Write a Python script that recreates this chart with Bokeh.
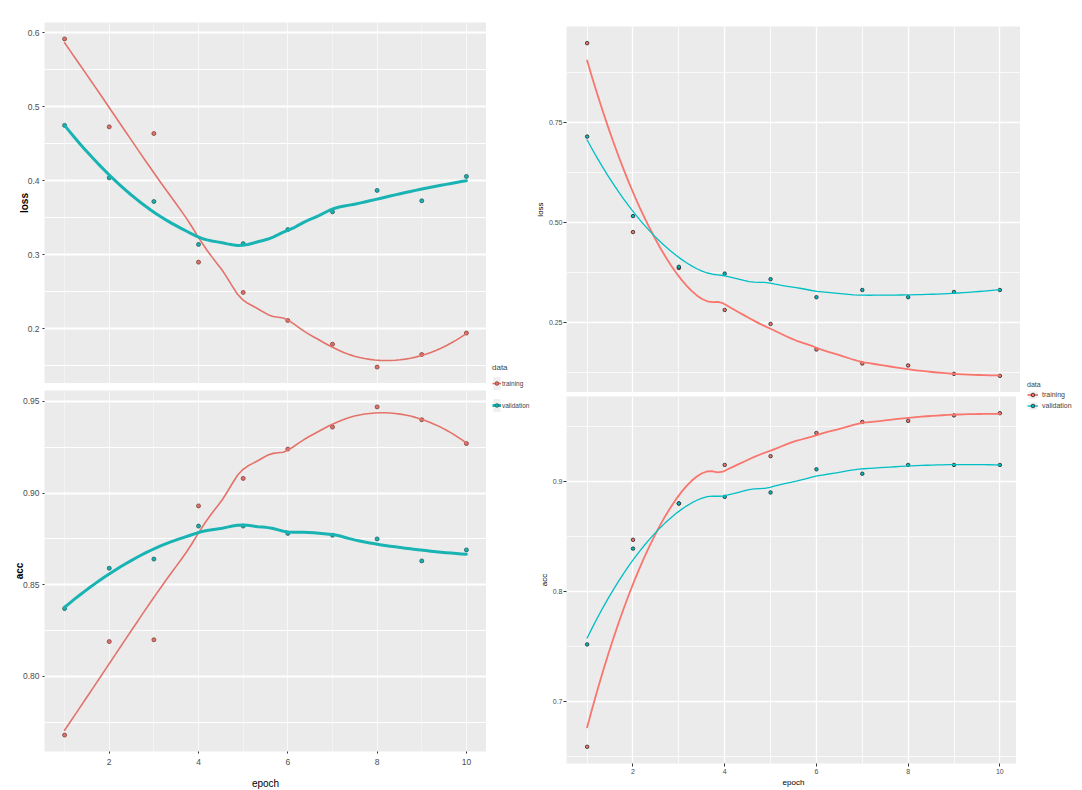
import numpy as np
from bokeh.plotting import figure
from bokeh.layouts import row, column
from bokeh.models import FixedTicker, Legend, LegendItem, Range1d
from bokeh.embed import file_html
from bokeh.resources import INLINE

# ---------------- data ----------------
epochs = [1, 2, 3, 4, 5, 6, 7, 8, 9, 10]
series_names = ["training", "validation"]

# left chart (two facets)
left_loss_training = [0.592, 0.473, 0.464, 0.290, 0.249, 0.211, 0.179, 0.148, 0.165, 0.194]
left_loss_validation = [0.475, 0.404, 0.372, 0.314, 0.315, 0.334, 0.358, 0.387, 0.373, 0.406]
left_acc_training = [0.768, 0.819, 0.820, 0.893, 0.908, 0.924, 0.936, 0.947, 0.940, 0.927]
left_acc_validation = [0.837, 0.859, 0.864, 0.882, 0.882, 0.878, 0.877, 0.875, 0.863, 0.869]

# right chart (two facets)
right_loss_training = [0.949, 0.476, 0.386, 0.281, 0.246, 0.182, 0.147, 0.142, 0.121, 0.116]
right_loss_validation = [0.715, 0.516, 0.389, 0.372, 0.358, 0.313, 0.331, 0.313, 0.326, 0.331]
right_acc_training = [0.659, 0.847, 0.880, 0.915, 0.923, 0.944, 0.954, 0.955, 0.960, 0.962]
right_acc_validation = [0.752, 0.839, 0.880, 0.886, 0.890, 0.911, 0.907, 0.915, 0.915, 0.915]

# ticks
x_ticks = [2, 4, 6, 8, 10]
x_minor = [1, 3, 5, 7, 9]
left_loss_ticks = [0.2, 0.3, 0.4, 0.5, 0.6]
left_loss_labels = ["0.2", "0.3", "0.4", "0.5", "0.6"]
left_loss_minor = [0.15, 0.25, 0.35, 0.45, 0.55]
left_acc_ticks = [0.80, 0.85, 0.90, 0.95]
left_acc_labels = ["0.80", "0.85", "0.90", "0.95"]
left_acc_minor = [0.775, 0.825, 0.875, 0.925]
right_loss_ticks = [0.25, 0.50, 0.75]
right_loss_labels = ["0.25", "0.50", "0.75"]
right_loss_minor = [0.125, 0.375, 0.625, 0.875]
right_acc_ticks = [0.7, 0.8, 0.9]
right_acc_labels = ["0.7", "0.8", "0.9"]
right_acc_minor = [0.65, 0.75, 0.85, 0.95]

# ---------------- helpers ----------------
XS = np.linspace(1, 10, 80)


def loess(x, y, xs, span=0.75, degree=2):
    x = np.asarray(x, float)
    y = np.asarray(y, float)
    n = len(x)
    q = int(np.floor(n * span))
    out = []
    for x0 in xs:
        d = np.abs(x - x0)
        h = np.sort(d)[q - 1]
        u = d / h
        w = np.where(u < 1, (1 - u ** 3) ** 3, 0.0)
        X = np.vander(x - x0, degree + 1, increasing=True)
        sw = np.sqrt(w)
        beta = np.linalg.lstsq(X * sw[:, None], y * sw, rcond=None)[0]
        out.append(beta[0])
    return np.array(out)


def yrange(*arrs):
    allv = np.concatenate([np.asarray(a, float) for a in arrs])
    lo, hi = allv.min(), allv.max()
    pad = 0.05 * (hi - lo)
    return Range1d(lo - pad, hi + pad)


LEFT_FONT = "Liberation Sans"
RIGHT_FONT = "Liberation Sans"
PANEL_BG = "#EBEBEB"


def make_panel(fw, fh, bl, bt, bb, ylo_hi, yticks, ylabels, yminor, ytitle,
               show_x, cfg):
    p = figure(frame_width=fw, frame_height=fh,
               x_range=Range1d(0.55, 10.45), y_range=ylo_hi,
               min_border_left=bl, min_border_right=0, min_border_top=bt,
               min_border_bottom=bb, output_backend="svg", toolbar_location=None,
               background_fill_color=PANEL_BG, border_fill_color="white",
               outline_line_color=None)
    p.xaxis.ticker = FixedTicker(ticks=x_ticks, minor_ticks=x_minor)
    p.yaxis.ticker = FixedTicker(ticks=yticks, minor_ticks=yminor)
    p.yaxis.major_label_overrides = {t: l for t, l in zip(yticks, ylabels)}
    for ax in (p.xaxis[0], p.yaxis[0]):
        ax.axis_line_color = None
        ax.minor_tick_line_color = None
        ax.major_tick_line_color = "#333333"
        ax.major_tick_in = 0
        ax.major_tick_out = cfg["tick_out"]
        ax.major_label_text_font = cfg["font"]
        ax.major_label_text_font_size = cfg["tick_size"]
        ax.major_label_text_color = "#4D4D4D"
        ax.axis_label_text_font = cfg["font"]
        ax.axis_label_text_font_size = cfg["title_size"]
        ax.axis_label_text_color = "black"
        ax.axis_label_text_font_style = "normal"
    p.yaxis.major_label_standoff = cfg["ylab_standoff"]
    p.xaxis.major_label_standoff = cfg["xlab_standoff"]
    p.yaxis.axis_label = ytitle
    p.yaxis.axis_label_standoff = cfg["ytitle_standoff"]
    p.yaxis.axis_label_text_font_style = cfg["ytitle_style"]
    if show_x:
        p.xaxis.axis_label = "epoch"
        p.xaxis.axis_label_standoff = cfg["xtitle_standoff"]
    else:
        p.xaxis.visible = False
    p.xgrid.grid_line_color = "white"
    p.xgrid.grid_line_width = cfg["xgrid_w"]
    p.xgrid.grid_line_alpha = cfg["xgrid_a"]
    p.xgrid.minor_grid_line_color = "white"
    p.xgrid.minor_grid_line_width = cfg["xgrid_w"] * 0.6
    p.xgrid.minor_grid_line_alpha = cfg["xgrid_a"]
    p.ygrid.grid_line_color = "white"
    p.ygrid.grid_line_width = cfg["ygrid_w"]
    p.ygrid.minor_grid_line_color = "white"
    p.ygrid.minor_grid_line_width = cfg["ygrid_w"] * 0.55
    return p


def add_series(p, y, color, pt_line, lw, pt_size):
    p.scatter(epochs, y, size=pt_size, fill_color=color, line_color=pt_line,
              line_width=0.8)
    p.line(XS, loess(epochs, y, XS), line_color=color, line_width=lw,
           line_join="round", line_cap="round")


def make_legend_fig(w, colors, lws, pt_lines, lcfg):
    p = figure(width=w, height=790, x_range=Range1d(0, 1), y_range=Range1d(0, 1),
               min_border=0, output_backend="svg", toolbar_location=None,
               x_axis_location=None, y_axis_location=None,
               outline_line_color=None, background_fill_color="white",
               border_fill_color="white")
    p.grid.visible = False
    items = []
    for name, c, lw, pl in zip(series_names, colors, lws, pt_lines):
        # single off-range point so the legend has an index to draw
        bg = p.rect(x=[-10], y=[-10], width=1, height=1, fill_color="#EFEFEF",
                    line_color=None)
        ln = p.line(x=[-10, -9], y=[-10, -10], line_color=c, line_width=lw)
        pt = p.scatter(x=[-10], y=[-10], size=4, fill_color=c, line_color=pl,
                       line_width=0.8)
        items.append(LegendItem(label=name, renderers=[bg, ln, pt]))
    leg = Legend(items=items, title="data", location=lcfg["loc"],
                 orientation="vertical", padding=0, margin=0,
                 border_line_color=None, background_fill_alpha=0,
                 glyph_width=lcfg["gw"], glyph_height=lcfg["gh"],
                 label_height=lcfg["gh"], spacing=lcfg["spacing"],
                 label_standoff=lcfg["label_standoff"],
                 label_text_font=lcfg["font"], label_text_font_size=lcfg["size"],
                 title_text_font=lcfg["font"], title_text_font_size=lcfg["tsize"],
                 title_text_font_style="normal", title_standoff=lcfg["tstand"])
    p.add_layout(leg, "center")
    return p


# ---------------- left chart ----------------
L_TRAIN = "#E3736A"
L_VAL = "#19B3B3"
left_cfg = dict(font=LEFT_FONT, tick_out=2, tick_size="8.5px", title_size="10px",
                ylab_standoff=1, xlab_standoff=3, ytitle_standoff=-5,
                xtitle_standoff=10, ytitle_style="bold",
                xgrid_w=1.0, xgrid_a=0.7, ygrid_w=2.0)

ll_tr_s = loess(epochs, left_loss_training, XS)
ll_va_s = loess(epochs, left_loss_validation, XS)
la_tr_s = loess(epochs, left_acc_training, XS)
la_va_s = loess(epochs, left_acc_validation, XS)

lt = make_panel(442, 361, 44, 22, 0,
                yrange(left_loss_training, left_loss_validation, ll_tr_s, ll_va_s),
                left_loss_ticks, left_loss_labels, left_loss_minor, "loss", False, left_cfg)
add_series(lt, left_loss_training, L_TRAIN, "#7A3E3A", 1.6, 4)
add_series(lt, left_loss_validation, L_VAL, "#1E5E5E", 3.0, 4)

lb = make_panel(442, 361, 44, 7, 39,
                yrange(left_acc_training, left_acc_validation, la_tr_s, la_va_s),
                left_acc_ticks, left_acc_labels, left_acc_minor, "acc", True, left_cfg)
add_series(lb, left_acc_training, L_TRAIN, "#7A3E3A", 1.6, 4)
add_series(lb, left_acc_validation, L_VAL, "#1E5E5E", 3.0, 4)

left_leg = make_legend_fig(46, [L_TRAIN, L_VAL], [1.6, 3.0], ["#7A3E3A", "#1E5E5E"],
                           dict(loc=(6, 377), gw=9, gh=16, spacing=6, label_standoff=1,
                                font=LEFT_FONT, size="6.5px", tsize="8px", tstand=3))

# ---------------- right chart ----------------
R_TRAIN = "#F8766D"
R_VAL = "#00BFC4"
right_cfg = dict(font=RIGHT_FONT, tick_out=3, tick_size="7px", title_size="8px",
                 ylab_standoff=0, xlab_standoff=1, ytitle_standoff=1,
                 xtitle_standoff=1, ytitle_style="normal",
                 xgrid_w=1.3, xgrid_a=1.0, ygrid_w=1.3)

rl_tr_s = loess(epochs, right_loss_training, XS)
rl_va_s = loess(epochs, right_loss_validation, XS)
ra_tr_s = loess(epochs, right_acc_training, XS)
ra_va_s = loess(epochs, right_acc_validation, XS)

rt = make_panel(454, 366, 28, 26, 0,
                yrange(right_loss_training, right_loss_validation, rl_tr_s, rl_va_s),
                right_loss_ticks, right_loss_labels, right_loss_minor, "loss", False, right_cfg)
add_series(rt, right_loss_training, R_TRAIN, "#222222", 1.8, 3.5)
add_series(rt, right_loss_validation, R_VAL, "#222222", 1.3, 3.5)

rb = make_panel(454, 367, 28, 4, 27,
                yrange(right_acc_training, right_acc_validation, ra_tr_s, ra_va_s),
                right_acc_ticks, right_acc_labels, right_acc_minor, "acc", True, right_cfg)
add_series(rb, right_acc_training, R_TRAIN, "#222222", 1.8, 3.5)
add_series(rb, right_acc_validation, R_VAL, "#222222", 1.3, 3.5)

right_leg = make_legend_fig(68, [R_TRAIN, R_VAL], [1.8, 1.3], ["#222222", "#222222"],
                            dict(loc=(7, 380), gw=11, gh=9, spacing=2, label_standoff=4,
                                 font=RIGHT_FONT, size="7px", tsize="7px", tstand=2))

layout = row(column(lt, lb), left_leg, column(rt, rb), right_leg)

open("out.html", "w").write(file_html(layout, INLINE))
